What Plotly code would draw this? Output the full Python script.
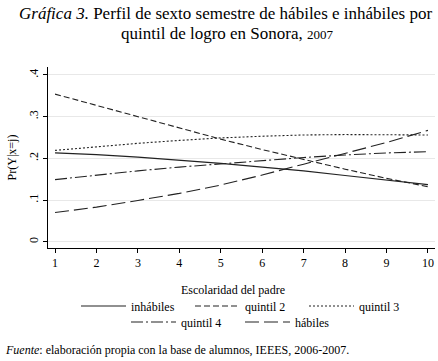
import plotly.graph_objects as go

escolaridad = [1, 2, 3, 4, 5, 6, 7, 8, 9, 10]
inhabiles = [0.213, 0.209, 0.203, 0.196, 0.188, 0.179, 0.170, 0.159, 0.148, 0.137]
quintil2 = [0.354, 0.327, 0.300, 0.272, 0.246, 0.221, 0.197, 0.174, 0.152, 0.132]
quintil3 = [0.219, 0.228, 0.236, 0.243, 0.249, 0.253, 0.256, 0.257, 0.257, 0.256]
quintil4 = [0.149, 0.160, 0.170, 0.179, 0.187, 0.195, 0.202, 0.208, 0.213, 0.216]
habiles = [0.070, 0.083, 0.099, 0.116, 0.136, 0.160, 0.186, 0.212, 0.238, 0.267]

y_ticks = [0, 0.1, 0.2, 0.3, 0.4]
y_labels = ["0", ".1", ".2", ".3", ".4"]

SERIF = "Liberation Serif, Times New Roman, serif"

series = [
    ("inhábiles", inhabiles, "solid", "legend"),
    ("quintil 2", quintil2, "6px,3px", "legend"),
    ("quintil 3", quintil3, "2px,2px", "legend"),
    ("quintil 4", quintil4, "12px,3px,2px,3px", "legend2"),
    ("hábiles", habiles, "14px,5px", "legend2"),
]

fig = go.Figure()
for name, vals, dash, lg in series:
    fig.add_trace(go.Scatter(
        x=escolaridad, y=vals, mode="lines", name=name, legend=lg,
        line=dict(color="#222222", width=1.1, dash=dash),
    ))

# plot area in pixels: left 48, right 435, top 67, bottom 248
PL, PR, PT, PB = 48, 435, 67, 248
PW, PH = PR - PL, PB - PT


def px(x):
    return (x - PL) / PW


def py(y):
    return (PB - y) / PH


fig.update_layout(
    template="none",
    width=438, height=361,
    margin=dict(l=PL, r=438 - PR, t=PT, b=361 - PB, autoexpand=False),
    paper_bgcolor="white", plot_bgcolor="white",
    font=dict(family=SERIF, size=12, color="black"),
    xaxis=dict(
        automargin=False,
        range=[0.83, 10.17], tickvals=escolaridad, showgrid=False, zeroline=False,
        showline=True, linecolor="black", linewidth=1,
        ticks="outside", ticklen=4, tickcolor="black",
        tickfont=dict(family=SERIF, size=12, color="black"),
    ),
    yaxis=dict(
        automargin=False,
        range=[-0.015, 0.419], tickvals=y_ticks, ticktext=y_labels, tickangle=-90,
        showgrid=True, gridcolor="#e8e8e8", gridwidth=1, zeroline=False,
        showline=True, linecolor="black", linewidth=1,
        ticks="outside", ticklen=4, tickcolor="black",
        tickfont=dict(family=SERIF, size=12, color="black"),
        title=dict(text="Pr(Y|x=j)",
                   font=dict(family=SERIF, size=12, color="black"), standoff=8),
    ),
    legend=dict(
        orientation="h", xref="container", yref="container",
        x=76 / 438, xanchor="left", y=1 - 306 / 361, yanchor="middle",
        itemwidth=45, entrywidth=54, font=dict(family=SERIF, size=12, color="black"),
        tracegroupgap=0, bgcolor="rgba(0,0,0,0)",
    ),
    legend2=dict(
        orientation="h", xref="container", yref="container",
        x=126 / 438, xanchor="left", y=1 - 322 / 361, yanchor="middle",
        itemwidth=45, entrywidth=54, font=dict(family=SERIF, size=12, color="black"),
        tracegroupgap=0, bgcolor="rgba(0,0,0,0)",
    ),
    annotations=[
        dict(
            text="<i>Gráfica 3.</i> Perfil de sexto semestre de hábiles e inhábiles por",
            xref="paper", yref="paper", x=px(225), y=py(14),
            xanchor="center", yanchor="middle", showarrow=False,
            font=dict(family=SERIF, size=17, color="black"),
        ),
        dict(
            text="quintil de logro en Sonora, <span style='font-size:13px'>2007</span>",
            xref="paper", yref="paper", x=px(227), y=py(33),
            xanchor="center", yanchor="middle", showarrow=False,
            font=dict(family=SERIF, size=17, color="black"),
        ),
        dict(
            text="Escolaridad del padre",
            xref="paper", yref="paper", x=px(233), y=py(290),
            xanchor="center", yanchor="middle", showarrow=False,
            font=dict(family=SERIF, size=12, color="black"),
        ),
        dict(
            text="<i>Fuente</i>: elaboración propia con la base de alumnos, IEEES, 2006-2007.",
            xref="paper", yref="paper", x=px(3), y=py(350),
            xanchor="left", yanchor="middle", showarrow=False,
            font=dict(family=SERIF, size=12, color="black"),
        ),
    ],
)

fig.write_html(
    "out.html",
    config={"displayModeBar": False},
    post_script="document.body.style.margin='0';document.body.style.padding='0';",
)
